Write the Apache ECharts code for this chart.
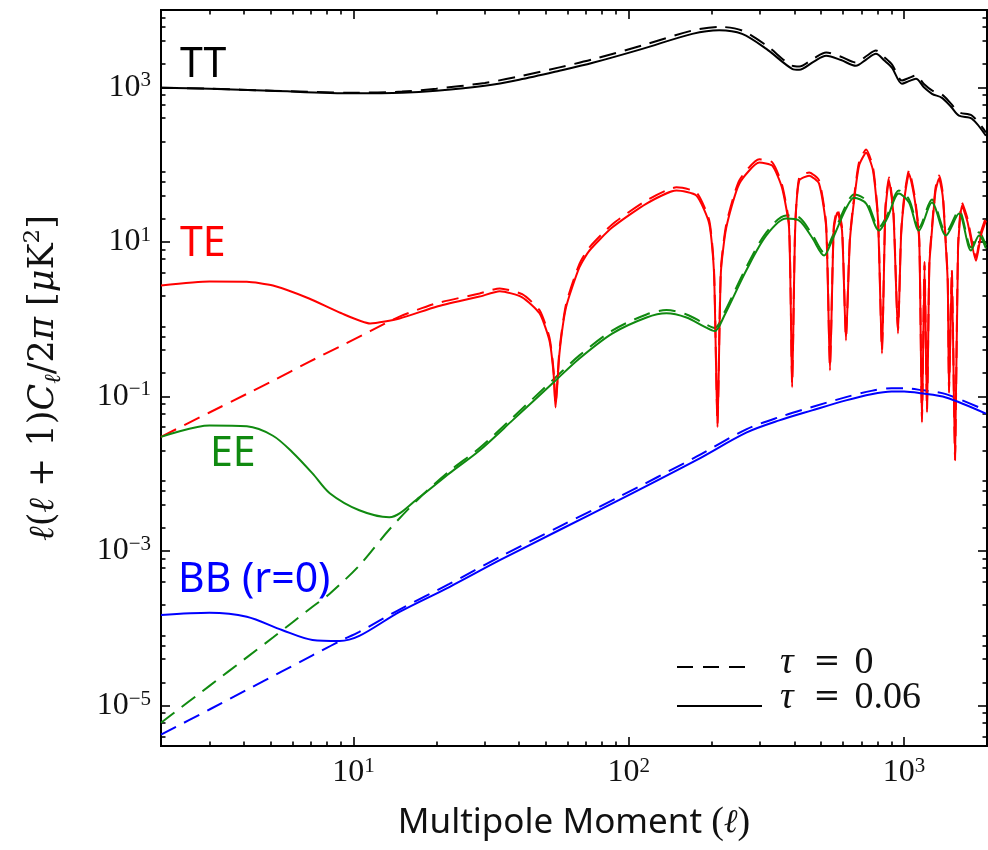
<!DOCTYPE html>
<html>
<head>
<meta charset="utf-8">
<script src="https://cdn.jsdelivr.net/npm/echarts@6/dist/echarts.min.js"></script>
<style>
  html, body { margin: 0; padding: 0; background: #fff; }
  #chart { width: 988px; height: 850px; }
</style>
</head>
<body>
<div id="chart"></div>
<script>
// CMB angular power spectra, l(l+1)C_l/2pi in uK^2, with and without reionization (tau = 0.06 / tau = 0)

// Temperature (TT)
const ellTT = [2, 3, 5, 10, 15, 20, 30, 40, 56, 74, 112, 170, 213, 258, 316, 392, 416, 470, 521, 590, 668, 730, 790, 850, 904, 982, 1040, 1104, 1180, 1262, 1372, 1480, 1582, 1762, 1982];
const ttTau006 = [985, 957, 901, 836, 849, 901, 1045, 1250, 1634, 2074, 3140, 4914, 5480, 4914, 3140, 1734, 1683, 2150, 2553, 2250, 1896, 2300, 2711, 2200, 1786, 1110, 1200, 1288, 1000, 824, 731, 560, 429, 392, 236];
const ttTau0 = [985, 960, 905, 850, 880, 960, 1140, 1380, 1810, 2300, 3480, 5420, 6050, 5420, 3480, 1910, 1860, 2370, 2820, 2480, 2090, 2540, 2990, 2430, 1970, 1225, 1320, 1420, 1100, 910, 805, 615, 475, 432, 260];

// Temperature-polarization cross spectrum (|TE|)
const ellTE = [2, 3, 4.1, 5.1, 6.9, 9, 11.5, 14.7, 20, 28.7, 34, 41, 47.4, 51.5, 53.3, 54.2, 56, 59.2, 66.2, 72, 87, 116, 149, 176, 196, 204, 210, 216, 226, 252, 298, 332, 360, 382, 392, 402, 416, 452, 491, 521, 538, 555, 572, 595, 615, 635, 658, 686, 728, 771, 804, 831, 855, 881, 915, 950, 975, 1000, 1042, 1094, 1135, 1161, 1186, 1211, 1235, 1262, 1300, 1339, 1380, 1407, 1440, 1456, 1490, 1531, 1570, 1622, 1700, 1824, 1900, 1982];
const teTau006 = [2.72, 3.07, 3.05, 2.72, 1.85, 1.2, 0.88, 1.02, 1.45, 1.96, 2.30, 1.92, 1.19, 0.53, 0.2, 0.072, 0.36, 1.43, 4.7, 7.73, 15.3, 31.3, 46.1, 39.7, 17.2, 3.89, 0.040, 4, 15.3, 56.6, 106, 96.9, 50.4, 15.3, 0.131, 14, 62, 71.9, 56.6, 15.3, 0.217, 14, 24, 14, 0.53, 10, 34.2, 96.9, 142.6, 83.4, 18.8, 0.36, 25, 62, 22, 0.65, 12, 34.2, 76.2, 34.2, 10, 0.046, 5, 0.062, 5, 14, 45, 65.8, 40, 14, 3, 0.11, 4, 0.0149, 8, 29.4, 18, 5.7, 12, 18.8];
const teTau0 = [0.030, 0.062, 0.108, 0.16, 0.28, 0.45, 0.70, 1.08, 1.6, 2.15, 2.5, 2.1, 1.31, 0.58, 0.22, 0.08, 0.4, 1.57, 5.2, 8.5, 16.8, 34.4, 50.7, 43.7, 18.9, 4.3, 0.044, 4.4, 16.8, 62.3, 117, 107, 55.4, 16.8, 0.144, 15.4, 68.2, 79.1, 62.3, 16.8, 0.24, 15.4, 26.4, 15.4, 0.58, 11, 37.6, 107, 157, 91.7, 20.7, 0.4, 27.5, 68.2, 24.2, 0.72, 13.2, 37.6, 83.8, 37.6, 11, 0.051, 5.5, 0.068, 5.5, 15.4, 49.5, 72.4, 44, 15.4, 3.3, 0.12, 4.4, 0.0164, 8.8, 32.3, 19.8, 6.3, 13.2, 20.7];

// E-mode polarization (EE)
const ellEE = [2, 3, 4.1, 5.1, 6, 7.1, 8.2, 10.5, 13.5, 17.4, 22.3, 28.7, 37.8, 54.2, 66.2, 87, 116, 137, 162, 188, 205, 222, 267, 316, 373, 416, 463, 512, 547, 615, 658, 728, 811, 867, 957, 1042, 1132, 1262, 1419, 1582, 1750, 1871, 1982];
const eeTau006 = [0.030, 0.042, 0.041, 0.031, 0.019, 0.0101, 0.0056, 0.00337, 0.00274, 0.005, 0.0101, 0.020, 0.049, 0.161, 0.31, 0.65, 1.05, 1.19, 1.05, 0.80, 0.70, 1.10, 4.26, 12.1, 20.0, 18.8, 11.4, 6.65, 10.4, 26.9, 37.3, 31.3, 14.0, 20.0, 42.1, 32.2, 14.0, 32.2, 12.1, 23.2, 7.73, 12.1, 8.2];
const eeTau0 = [6e-6, 1.8e-5, 4.2e-5, 7.6e-5, 1.19e-4, 1.9e-4, 2.8e-4, 6.5e-4, 1.9e-3, 4.9e-3, 0.0108, 0.0215, 0.053, 0.176, 0.34, 0.71, 1.15, 1.31, 1.15, 0.88, 0.77, 1.21, 4.68, 13.3, 22, 20.7, 12.5, 7.3, 11.4, 29.6, 41, 34.4, 15.4, 22, 46.3, 35.4, 15.4, 35.4, 13.3, 25.5, 8.5, 13.3, 9.0];

// B-mode polarization from lensing only (BB, r = 0)
const ellBB = [2, 3, 4.1, 5.5, 7.1, 8.9, 10.5, 14.7, 22.3, 34, 56, 92, 176, 267, 352, 463, 615, 760, 900, 1000, 1150, 1419, 1982];
const bbTau006 = [1.49e-4, 1.59e-4, 1.41e-4, 9.5e-5, 7.06e-5, 6.85e-5, 7.96e-5, 1.63e-4, 3.42e-4, 7.6e-4, 1.87e-3, 4.55e-3, 0.015, 0.034, 0.049, 0.066, 0.089, 0.107, 0.116, 0.116, 0.110, 0.097, 0.060];
const bbTau0 = [4.2e-6, 8.9e-6, 1.6e-5, 2.77e-5, 4.47e-5, 6.8e-5, 9.0e-5, 1.75e-4, 3.75e-4, 8.4e-4, 2.07e-3, 5.0e-3, 0.0166, 0.0375, 0.054, 0.073, 0.098, 0.118, 0.128, 0.128, 0.121, 0.107, 0.066];

// Axis ranges and tick positions
const xRange = [2, 2000];
const yRange = [3e-6, 1e4];
const xMajorTicks = [10, 100, 1000];
const xMinorTicks = [3, 4, 5, 6, 7, 8, 9, 20, 30, 40, 50, 60, 70, 80, 90, 200, 300, 400, 500, 600, 700, 800, 900];
const yMajorTicks = [1e-5, 1e-3, 1e-1, 1e1, 1e3];
const yMinorTicks = [4e-6, 6e-6, 8e-6, 2e-5, 4e-5, 6e-5, 8e-5, 2e-4, 4e-4, 6e-4, 8e-4, 2e-3, 4e-3, 6e-3, 8e-3,
  2e-2, 4e-2, 6e-2, 8e-2, 0.2, 0.4, 0.6, 0.8, 2, 4, 6, 8, 20, 40, 60, 80, 200, 400, 600, 800, 2000, 4000, 6000, 8000];

const lg = Math.log10;
const gridBox = { left: 161, right: 1, top: 10, bottom: 104 };
const SERIF = 'Liberation Serif';
const MATH = 'DejaVu Serif';
const SANS = 'Noto Sans';

const tickRich = {
  b: { fontFamily: SERIF, fontSize: 32, color: '#111', lineHeight: 34 },
  e: { fontFamily: SERIF, fontSize: 21, color: '#111', lineHeight: 20, verticalAlign: 'top' }
};
function powerLabel(v) {
  const n = Math.round(v);
  return '{b|10}{e|' + (n < 0 ? '\u2212' + (-n) : n) + '}';
}

// Tick decoration axes work in log10 space so that tick lengths can differ
function tickAxis(grid, position, range, ticks, len, withLabels, extra) {
  const ax = {
    gridIndex: grid, type: 'value', position: position,
    min: lg(range[0]), max: lg(range[1]),
    axisLine: { show: false, onZero: false },
    splitLine: { show: false },
    axisTick: { show: true, inside: true, length: len, customValues: ticks.map(lg),
                lineStyle: { color: '#000', width: 1.6 } },
    axisLabel: withLabels
      ? { show: true, customValues: ticks.map(lg), formatter: powerLabel, rich: tickRich, margin: 10 }
      : { show: false }
  };
  return Object.assign(ax, extra || {});
}

function line(ell, vals, color, dashed, smooth, z) {
  return {
    type: 'line', xAxisIndex: 0, yAxisIndex: 0,
    data: ell.map((l, i) => [l, vals[i]]),
    showSymbol: false, symbol: 'none', smooth: smooth, z: z,
    lineStyle: { color: color, width: 2, type: dashed ? [17, 9] : 'solid' },
    emphasis: { disabled: true }, animation: false
  };
}

const RED = '#ff0000', GREEN = '#108a10', BLUE = '#0000ff', BLACK = '#000000';

const xName = '{s|Multipole Moment }{p|(}{l|\u2113}{p|)}';
const xNameRich = {
  s: { fontFamily: SANS, fontSize: 35, color: '#111' },
  p: { fontFamily: SERIF, fontSize: 38, color: '#111' },
  l: { fontFamily: MATH, fontStyle: 'italic', fontSize: 33, color: '#111' }
};
const yName = '{i|\u2113}{r|(}{i|\u2113}{r| + 1)}{i|C}{d|\u2113}{r|/2}{i|\u03c0}{r| [}{i|\u03bc}{r|K}{u|2}{r|]}';
const yNameRich = {
  i: { fontFamily: MATH, fontStyle: 'italic', fontSize: 35, color: '#111', lineHeight: 44 },
  r: { fontFamily: MATH, fontSize: 35, color: '#111', lineHeight: 44 },
  d: { fontFamily: MATH, fontStyle: 'italic', fontSize: 23, color: '#111', lineHeight: 26, verticalAlign: 'bottom' },
  u: { fontFamily: MATH, fontSize: 23, color: '#111', lineHeight: 22, verticalAlign: 'top' }
};

const option = {
  backgroundColor: '#ffffff',
  animation: false,
  grid: [
    Object.assign({ show: true, borderColor: '#000', borderWidth: 2, backgroundColor: 'transparent' }, gridBox),
    Object.assign({}, gridBox),
    Object.assign({}, gridBox)
  ],
  xAxis: [
    { gridIndex: 0, type: 'log', logBase: 10, min: xRange[0], max: xRange[1], show: false },
    tickAxis(1, 'bottom', xRange, xMajorTicks, 9, true, {
      name: xName, nameLocation: 'middle', nameGap: 58,
      nameTextStyle: { rich: xNameRich }
    }),
    tickAxis(1, 'top', xRange, xMajorTicks, 9, false),
    tickAxis(2, 'bottom', xRange, xMinorTicks, 4.5, false),
    tickAxis(2, 'top', xRange, xMinorTicks, 4.5, false)
  ],
  yAxis: [
    { gridIndex: 0, type: 'log', logBase: 10, min: yRange[0], max: yRange[1], show: false },
    tickAxis(1, 'left', yRange, yMajorTicks, 9, true, {
      name: yName, nameLocation: 'middle', nameGap: 95, nameRotate: 90,
      nameTextStyle: { rich: yNameRich }
    }),
    tickAxis(1, 'right', yRange, yMajorTicks, 9, false),
    tickAxis(2, 'left', yRange, yMinorTicks, 4.5, false),
    tickAxis(2, 'right', yRange, yMinorTicks, 4.5, false)
  ],
  series: [
    line(ellTT, ttTau0, BLACK, true, 0.3, 2),
    line(ellTT, ttTau006, BLACK, false, 0.3, 3),
    line(ellTE, teTau0, RED, true, 0.2, 2),
    line(ellTE, teTau006, RED, false, 0.2, 3),
    line(ellEE, eeTau0, GREEN, true, 0.3, 2),
    line(ellEE, eeTau006, GREEN, false, 0.3, 3),
    line(ellBB, bbTau0, BLUE, true, 0.3, 2),
    line(ellBB, bbTau006, BLUE, false, 0.3, 3)
  ],
  graphic: [
    { type: 'text', x: 180, y: 65, style: { text: 'TT', font: '41px "Noto Sans"', fill: BLACK, verticalAlign: 'middle' } },
    { type: 'text', x: 180, y: 244, style: { text: 'TE', font: '41px "Noto Sans"', fill: RED, verticalAlign: 'middle' } },
    { type: 'text', x: 210, y: 454, style: { text: 'EE', font: '41px "Noto Sans"', fill: GREEN, verticalAlign: 'middle' } },
    { type: 'text', x: 178, y: 580, style: { text: 'BB (r=0)', font: '41px "Noto Sans"', fill: BLUE, verticalAlign: 'middle' } },
    // legend
    { type: 'line', shape: { x1: 677, y1: 667, x2: 752, y2: 667 }, style: { stroke: '#000', lineWidth: 2, lineDash: [16, 10] } },
    { type: 'line', shape: { x1: 677, y1: 706, x2: 762, y2: 706 }, style: { stroke: '#000', lineWidth: 2 } },
    { type: 'text', x: 780, y: 663, style: {
        text: '{t|\u03c4}{q|=}{n|0}', verticalAlign: 'middle',
        rich: {
          t: { fontFamily: SERIF, fontStyle: 'italic', fontSize: 38, fill: '#111' },
          q: { fontFamily: MATH, fontSize: 32, fill: '#111', padding: [0, 14, 0, 20] },
          n: { fontFamily: SERIF, fontSize: 38, fill: '#111' }
        } } },
    { type: 'text', x: 780, y: 698, style: {
        text: '{t|\u03c4}{q|=}{n|0.06}', verticalAlign: 'middle',
        rich: {
          t: { fontFamily: SERIF, fontStyle: 'italic', fontSize: 38, fill: '#111' },
          q: { fontFamily: MATH, fontSize: 32, fill: '#111', padding: [0, 14, 0, 20] },
          n: { fontFamily: SERIF, fontSize: 38, fill: '#111' }
        } } }
  ]
};

const chart = echarts.init(document.getElementById('chart'), null, { renderer: 'canvas' });
chart.setOption(option);
</script>
</body>
</html>
